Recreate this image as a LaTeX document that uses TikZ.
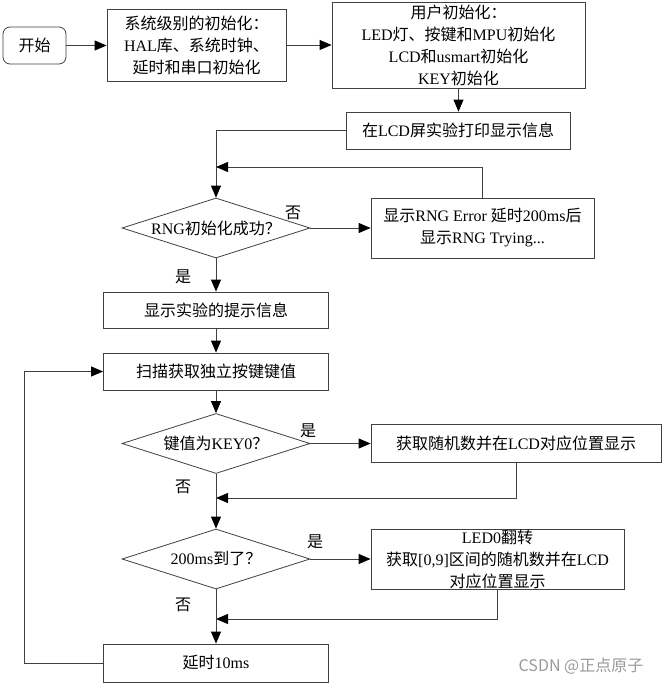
\documentclass[tikz,border=0pt]{standalone}
\usepackage{fontspec}
\setmainfont{Liberation Serif}
\newfontfamily\cjk{Noto Sans CJK SC}
\usetikzlibrary{arrows.meta,shapes.geometric,positioning}

% CJK characters switch to the CJK family by themselves
\XeTeXinterchartokenstate=1
\newXeTeXintercharclass\cjkclass
\newcommand{\setcjkrange}[2]{%
  \count255=#1
  \loop\XeTeXcharclass\count255=\cjkclass\relax
    \ifnum\count255<#2 \advance\count255 by 1 \repeat}
\setcjkrange{"3000}{"303F}
\setcjkrange{"4E00}{"9FFF}
\setcjkrange{"FF00}{"FFEF}
\XeTeXinterchartoks 0 \cjkclass = {\begingroup\cjk}
\XeTeXinterchartoks 4095 \cjkclass = {\begingroup\cjk}
\XeTeXinterchartoks \cjkclass 0 = {\endgroup}
\XeTeXinterchartoks \cjkclass 4095 = {\endgroup}

\begin{document}
\begin{tikzpicture}[x=1pt,y=-1pt,font=\fontsize{16}{22}\selectfont]

  % Styles
  \tikzstyle{block}=[draw=black!75,line width=0.8pt,fill=white,align=center,inner sep=0pt]
  \tikzstyle{decision}=[diamond,draw=black!75,line width=0.8pt,aspect=3.2,inner sep=0pt,minimum width=188pt,minimum height=60pt]
  \tikzstyle{to}=[-{Triangle[length=12pt,width=10pt,color=black]},line width=0.8pt,draw=black!75]
  \tikzstyle{note}=[inner sep=0pt]

  % \procblock{<id>}{<size>}{<label>}
  \newcommand{\procblock}[3]{node[block,#2] (#1) {#3}}

  % ===========================================================================

  \useasboundingbox (0,0) rectangle (663,685);

  % Draw blocks
  \path (34.5,45.5) \procblock{start}{minimum width=63pt,minimum height=37pt,rounded corners=7pt}{开始};
  \path (196.5,45)  \procblock{sys}{minimum width=179pt,minimum height=72pt}{系统级别的初始化：\\HAL库、系统时钟、\\延时和串口初始化};
  \path (458.5,45)  \procblock{user}{minimum width=253pt,minimum height=86pt}{用户初始化：\\LED灯、按键和MPU初始化\\LCD和usmart初始化\\KEY初始化};
  \path (458,130.5) \procblock{lcd}{minimum width=224pt,minimum height=37pt}{在LCD屏实验打印显示信息};
  \node[decision] (rng) at (216,228) {RNG初始化成功？};
  \path (482.5,228) \procblock{err}{minimum width=223pt,minimum height=60pt}{显示RNG Error 延时200ms后\\显示RNG Trying...};
  \path (216,310)   \procblock{tip}{minimum width=225pt,minimum height=36pt}{显示实验的提示信息};
  \path (216,371.5) \procblock{scan}{minimum width=225pt,minimum height=37pt}{扫描获取独立按键键值};
  \node[decision] (key) at (216,443.5) {键值为KEY0？};
  \path (516,443)   \procblock{rand}{minimum width=290pt,minimum height=38pt}{获取随机数并在LCD对应位置显示};
  \node[decision] (ms) at (216,559) {200ms到了？};
  \path (497.5,559) \procblock{led}{minimum width=253pt,minimum height=60pt}{LED0翻转\\获取[0,9]区间的随机数并在LCD\\对应位置显示};
  \path (216,663)   \procblock{delay}{minimum width=225pt,minimum height=38pt}{延时10ms};

  % Branch labels
  \node[note] (rngno)  at (293,213) {否};
  \node[note] (rngyes) at (183,277) {是};
  \node[note] (keyyes) at (308,431) {是};
  \node[note] (keyno)  at (183,487) {否};
  \node[note] (msyes)  at (315,542) {是};
  \node[note] (msno)   at (183,605) {否};
  \node[note,text=black!40,font=\fontsize{16}{18}\cjk] (mark) at (581,666) {CSDN @正点原子};

  % Return points
  \coordinate (errback) at (216,167);
  \coordinate (keyback) at (216,498);
  \coordinate (msback)  at (216,619);
  \coordinate (loopcorner) at (24,663);

  % Draw arrows
  \draw[to] (start.east) -- (start.east -| sys.west);
  \draw[to] (sys.east) -- (sys.east -| user.west);
  \draw[to] (user.south) -- (user.south |- lcd.north);
  \draw[to] (lcd.west) -| (rng.north);
  \draw[to] (rng.east) -- (err.west);
  \draw[to] (err.north) |- (errback);
  \draw[to] (rng.south) -- (tip.north);
  \draw[to] (tip.south) -- (scan.north);
  \draw[to] (scan.south) -- (key.north);
  \draw[to] (key.east) -- (key.east -| rand.west);
  \draw[to] (rand.south) |- (keyback);
  \draw[to] (key.south) -- (ms.north);
  \draw[to] (ms.east) -- (led.west);
  \draw[to] (led.south) |- (msback);
  \draw[to] (ms.south) -- (delay.north);
  \draw[to] (delay.west) -- (loopcorner) |- (scan.west);

\end{tikzpicture}
\end{document}
